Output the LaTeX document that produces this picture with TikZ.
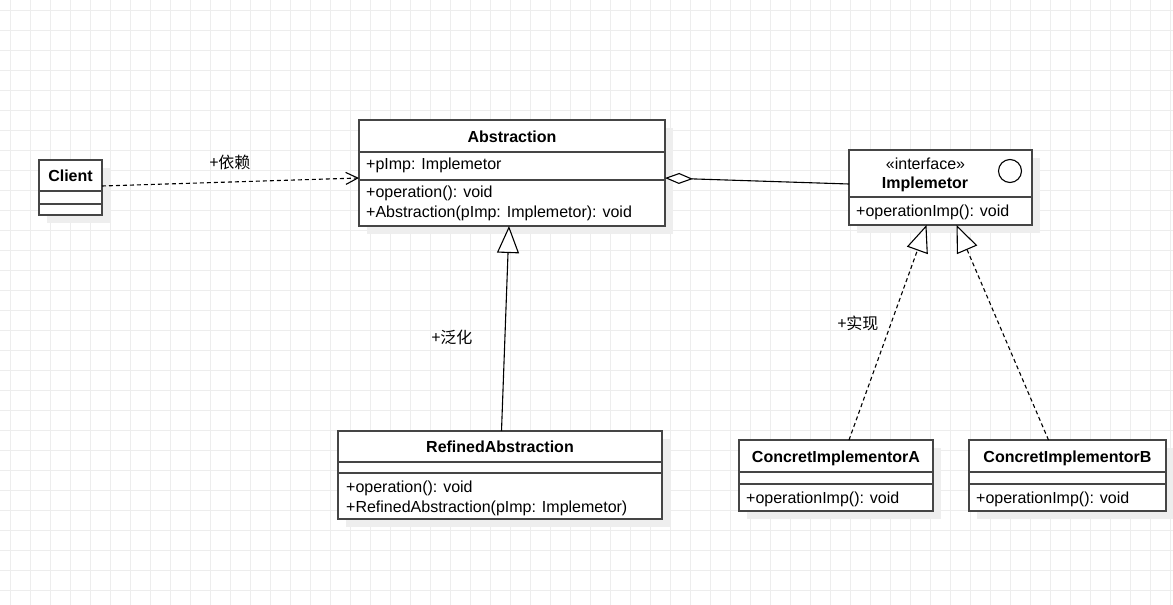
\documentclass[tikz,border=0pt]{standalone}
\usepackage{fontspec}
\setmainfont{Liberation Sans}
\newfontfamily\cjk{Noto Sans CJK SC}
\usetikzlibrary{arrows.meta}
\definecolor{gridc}{HTML}{EDEDED}
\definecolor{boxc}{HTML}{454545}
\definecolor{shadc}{HTML}{EEEEEE}
\begin{document}
\begin{tikzpicture}[x=1pt,y=-1pt,
  classbox/.style={draw=boxc,fill=white,line width=1.4pt,inner sep=0pt,outer sep=0pt,anchor=north west},
  txt/.style={inner sep=0pt,text height=12pt,text depth=0pt,font=\fontsize{16}{19}\selectfont},
  ttl/.style={txt,font=\fontsize{16}{19}\selectfont\bfseries},
  attr/.style={txt,anchor=west},
  lbl/.style={txt,font=\fontsize{16}{19}\selectfont\cjk},
  sep/.style={draw=boxc,line width=1.4pt},
  edge/.style={draw=black,line width=1.1pt},
  dashedge/.style={edge,dash pattern=on 4pt off 3pt},
]
\useasboundingbox (0,0) rectangle (1173,605);
\fill[white] (0,0) rectangle (1173,605);
\foreach \i in {10,30,...,1170} \draw[gridc,line width=1pt] (\i,0) -- (\i,605);
\foreach \j in {10,30,...,600} \draw[gridc,line width=1pt] (0,\j) -- (1173,\j);

% shadows
\fill[shadc] (47,168) rectangle ++(63,55);
\fill[shadc] (367,128) rectangle ++(306,106);
\fill[shadc] (857,158) rectangle ++(183,75);
\fill[shadc] (346,439) rectangle ++(324,88);
\fill[shadc] (747,448) rectangle ++(194,71);
\fill[shadc] (977,448) rectangle ++(197,71);

% Client
\node[classbox,minimum width=63pt,minimum height=55pt] (client) at (39,160) {};
\draw[sep] (39,191) -- (102,191);
\draw[sep] (39,204) -- (102,204);
\node[ttl] (clientT) at (70.5,175.5) {Client};

% Abstraction
\node[classbox,minimum width=306pt,minimum height=106pt] (abs) at (359,120) {};
\draw[sep] (359,152) -- (665,152);
\draw[sep] (359,180) -- (665,180);
\node[ttl] (absT) at (512,136) {Abstraction};
\node[attr] (absA) at (366,163.5) {+pImp: Implemetor};
\node[attr] (absM1) at (366,191.5) {+operation(): void};
\node[attr] (absM2) at (366,211) {+Abstraction(pImp: Implemetor): void};

% Implemetor
\node[classbox,minimum width=183pt,minimum height=75pt] (impl) at (849,150) {};
\draw[sep] (849,197) -- (1032,197);
\node[txt] (implS) at (925.5,163) {«interface»};
\node[ttl] (implT) at (925,182) {Implemetor};
\node[draw=black,line width=1.1pt,circle,minimum size=23pt,inner sep=0pt] (implC) at (1010,171) {};
\node[attr] (implM) at (856,210.7) {+operationImp(): void};

% RefinedAbstraction
\node[classbox,minimum width=324pt,minimum height=88pt] (ref) at (338,431) {};
\draw[sep] (338,462) -- (662,462);
\draw[sep] (338,473) -- (662,473);
\node[ttl] (refT) at (500,446) {RefinedAbstraction};
\node[attr] (refM1) at (346,486.7) {+operation(): void};
\node[attr] (refM2) at (346,506) {+RefinedAbstraction(pImp: Implemetor)};

% ConcretImplementorA
\node[classbox,minimum width=194pt,minimum height=71pt] (cA) at (739,440) {};
\draw[sep] (739,472) -- (933,472);
\draw[sep] (739,484) -- (933,484);
\node[ttl] (cAT) at (836,456) {ConcretImplementorA};
\node[attr] (cAM) at (746,497) {+operationImp(): void};

% ConcretImplementorB
\node[classbox,minimum width=197pt,minimum height=71pt] (cB) at (969,440) {};
\draw[sep] (969,472) -- (1166,472);
\draw[sep] (969,484) -- (1166,484);
\node[ttl] (cBT) at (1067.5,456) {ConcretImplementorB};
\node[attr] (cBM) at (976,497) {+operationImp(): void};

% connectors
\draw[dashedge,-{Straight Barb[length=12pt,width=12pt,line width=1.1pt]}]
  ([yshift=1.5pt]client.east) -- ([yshift=-5pt]abs.west);
\node[lbl] (depL) at (230,162) {+依赖};

\draw[edge,{Diamond[open,length=28pt,width=11pt,fill=white]}-]
  ([yshift=-5pt]abs.east) -- ([yshift=3.5pt]impl.west);

\draw[edge,-{Triangle[open,length=27pt,width=22pt,fill=white]}]
  ([xshift=1.5pt]ref.north) -- ([xshift=-3pt]abs.south);
\node[lbl] (genL) at (452,337) {+泛化};

\draw[dashedge,-{Triangle[open,length=27pt,width=22pt,fill=white]}]
  ([xshift=13pt]cA.north) -- ([xshift=-14pt]impl.south);
\draw[dashedge,-{Triangle[open,length=27pt,width=22pt,fill=white]}]
  ([xshift=-19pt]cB.north) -- ([xshift=16pt]impl.south);
\node[lbl] (realL) at (858,323) {+实现};
\end{tikzpicture}
\end{document}
